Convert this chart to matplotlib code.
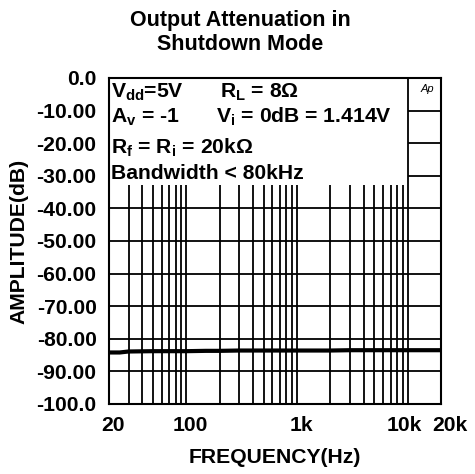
import numpy as np
import matplotlib
matplotlib.use("Agg")
import matplotlib.pyplot as plt
import matplotlib.transforms as mtrans
from matplotlib.patches import Rectangle

plt.rcParams['font.family'] = ['Liberation Sans', 'DejaVu Sans']
plt.rcParams['font.weight'] = 'bold'
plt.rcParams['mathtext.fontset'] = 'custom'
plt.rcParams['mathtext.rm'] = 'Liberation Sans:bold'
plt.rcParams['mathtext.it'] = 'Liberation Sans:bold'
plt.rcParams['mathtext.bf'] = 'Liberation Sans:bold'
plt.rcParams['mathtext.default'] = 'regular'

freq = [20, 25, 30, 50, 80, 100, 150, 200, 300, 500, 700, 1000, 2000, 3000, 5000, 10000, 20000]
ampl = [-84.2, -84.2, -83.9, -83.8, -83.8, -83.8, -83.7, -83.7, -83.6, -83.6, -83.6, -83.6, -83.6, -83.5, -83.5, -83.5, -83.5]

xticks = [20, 100, 1000, 10000, 20000]
xlabels = ["20", "100", "1k", "10k", "20k"]
yticks = [0, -10, -20, -30, -40, -50, -60, -70, -80, -90, -100]
ylabels = ["0.0", "-10.00", "-20.00", "-30.00", "-40.00", "-50.00",
           "-60.00", "-70.00", "-80.00", "-90.00", "-100.0"]
vgrid = [30, 40, 50, 60, 70, 80, 90, 100, 200, 300, 400, 500, 600, 700, 800, 900,
         1000, 2000, 3000, 4000, 5000, 6000, 7000, 8000, 9000]

fs = 15.2

fig = plt.figure(figsize=(4.75, 4.74), dpi=100)
ax = fig.add_axes([0.2295, 0.1477, 0.699, 0.6878])

ax.set_xscale('log')
ax.set_xlim(20, 20000)
ax.set_ylim(-100, 0)

# grid
for f in vgrid:
    ax.axvline(f, color='black', lw=1.3, zorder=1)
for y in yticks[1:-1]:
    ax.axhline(y, color='black', lw=1.3, zorder=1)

# white box behind the conditions text
ax.add_patch(Rectangle((20, -32.8), 10000 - 20, 32.8, facecolor='white',
                       edgecolor='none', zorder=2))
ax.axvline(10000, color='black', lw=1.3, zorder=3)

ax.plot(freq, ampl, color='black', lw=3, zorder=4)

ax.set_xticks(xticks)
ax.set_xticklabels(xlabels)
ax.xaxis.set_minor_locator(matplotlib.ticker.NullLocator())
ax.set_yticks(yticks)
ax.set_yticklabels(ylabels)
ax.tick_params(axis='both', length=0, labelsize=fs)
ax.tick_params(axis='y', pad=9)
ax.tick_params(axis='x', pad=9)
for s in ax.spines.values():
    s.set_linewidth(1.5)
    s.set_zorder(5)

# nudge x labels the way the original sheet has them
shifts = [4, 4, 4, -3, 9]
for lab, dx in zip(ax.get_xticklabels(), shifts):
    lab.set_transform(lab.get_transform() +
                      mtrans.ScaledTranslation(dx / 100, 0, fig.dpi_scale_trans))

ax.set_xlabel('FREQUENCY(Hz)', fontsize=fs, fontweight='bold', labelpad=9)
ax.set_ylabel('AMPLITUDE(dB)', fontsize=fs, fontweight='bold', labelpad=6)

fig.text(0.505, 0.978, 'Output Attenuation in\nShutdown Mode', ha='center', va='top',
         fontsize=15.5, fontweight='bold', linespacing=1.15)

tkw = dict(transform=ax.transAxes, fontsize=fs, fontweight='bold', zorder=6, va='baseline')
ax.text(0.006, 0.941, r'V$_{dd}$=5V', **tkw)
ax.text(0.335, 0.941, r'R$_{L}$ = 8Ω', **tkw)
ax.text(0.006, 0.862, r'A$_{v}$ = -1', **tkw)
ax.text(0.322, 0.862, r'V$_{i}$ = 0dB = 1.414V', **tkw)
ax.text(0.006, 0.767, r'R$_{f}$ = R$_{i}$ = 20kΩ', **tkw)
ax.text(0.006, 0.690, 'Bandwidth < 80kHz', **tkw)
ax.text(0.96, 0.965, 'Ap', transform=ax.transAxes, fontsize=8, style='italic',
        fontweight='normal', ha='center', va='center', zorder=6)

fig.savefig('out.png', dpi=100)
